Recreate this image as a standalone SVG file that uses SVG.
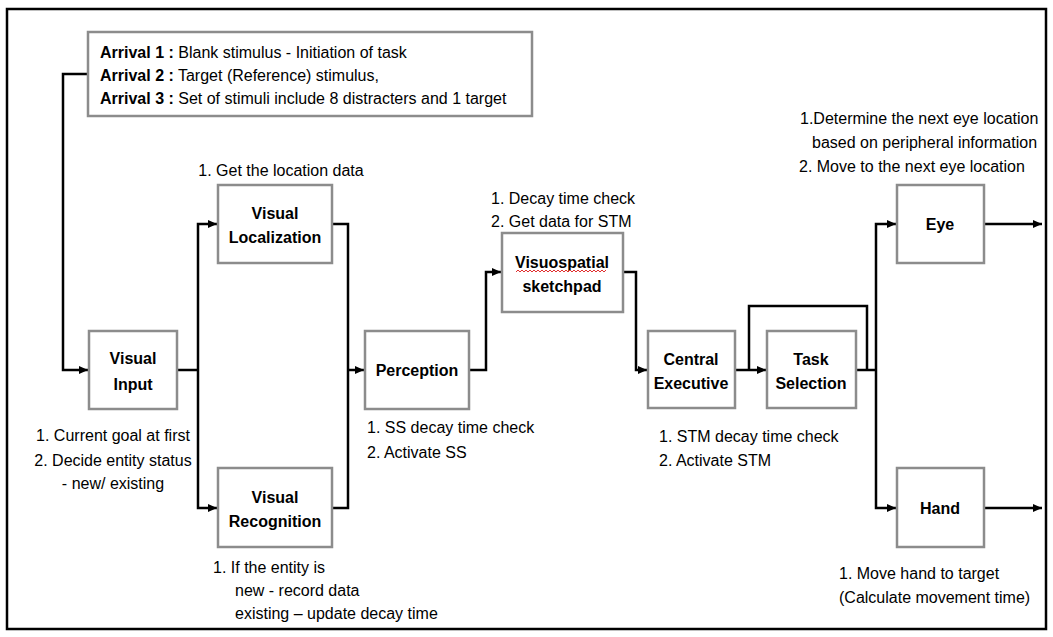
<svg xmlns="http://www.w3.org/2000/svg" width="1053" height="637" viewBox="0 0 1053 637">
<defs>
<style>
.box{fill:#fff;stroke:#8c8c8c;stroke-width:2.5}
.ln{fill:none;stroke:#000;stroke-width:2.5}
.arr{fill:none;stroke:#000;stroke-width:2.5;marker-end:url(#ah)}
text{font-family:"Liberation Sans",Arial,sans-serif;font-size:16px;fill:#000}
.t{font-weight:bold;text-anchor:middle}
.c{text-anchor:middle}
.b{font-weight:bold}
</style>
<marker id="ah" markerUnits="userSpaceOnUse" markerWidth="10" markerHeight="10" viewBox="0 0 10 10" refX="9" refY="5" orient="auto">
<path d="M0,1 L9,5 L0,9 Z" fill="#000"/>
</marker>
</defs>
<rect width="1053" height="637" fill="#fff"/>
<rect x="7" y="9" width="1039" height="620" fill="none" stroke="#000" stroke-width="2.5"/>

<g id="connectors">
<path class="arr" d="M88,74 H63 V370 H88"/>
<path class="ln" d="M177,370 H198"/>
<path class="arr" d="M198,370 V224 H217"/>
<path class="arr" d="M198,370 V508 H217"/>
<path class="ln" d="M332,224 H348 V508 H332"/>
<path class="arr" d="M348,370 H364"/>
<path class="arr" d="M469,370 H486 V272 H501"/>
<path class="arr" d="M623,272 H636 V370 H647"/>
<path class="arr" d="M735,370 H766"/>
<path class="ln" d="M749,370 V306 H867 V370"/>
<path class="ln" d="M856,370 H876"/>
<path class="arr" d="M876,370 V224 H896"/>
<path class="arr" d="M876,370 V508 H896"/>
<path class="arr" d="M984,224 H1042"/>
<path class="arr" d="M984,508 H1042"/>
</g>

<g id="arrivals">
<rect class="box" x="88" y="32" width="444" height="84"/>
<text x="100" y="58"><tspan class="b">Arrival 1 :</tspan> Blank stimulus - Initiation of task</text>
<text x="100" y="81"><tspan class="b">Arrival 2 :</tspan> Target (Reference) stimulus,</text>
<text x="100" y="104"><tspan class="b">Arrival 3 :</tspan> Set of stimuli include 8 distracters and 1 target</text>
</g>

<g id="visual-input">
<rect class="box" x="89" y="331" width="88" height="78"/>
<text class="t" x="133" y="364">Visual</text>
<text class="t" x="133" y="390">Input</text>
<text class="c" x="113" y="441">1. Current goal at first</text>
<text class="c" x="113" y="466">2. Decide entity status</text>
<text class="c" x="113" y="489">- new/ existing</text>
</g>

<g id="visual-localization">
<rect class="box" x="218" y="185" width="114" height="78"/>
<text class="t" x="275" y="219">Visual</text>
<text class="t" x="275" y="243">Localization</text>
<text class="c" x="281" y="176">1. Get the location data</text>
</g>

<g id="visual-recognition">
<rect class="box" x="218" y="468" width="114" height="79"/>
<text class="t" x="275" y="503">Visual</text>
<text class="t" x="275" y="527">Recognition</text>
<text x="213" y="573">1. If the entity is</text>
<text x="235" y="596">new - record data</text>
<text x="235" y="619">existing – update decay time</text>
</g>

<g id="perception">
<rect class="box" x="365" y="331" width="104" height="78"/>
<text class="t" x="417" y="376">Perception</text>
<text x="367" y="433">1. SS decay time check</text>
<text x="367" y="458">2. Activate SS</text>
</g>

<g id="visuospatial-sketchpad">
<rect class="box" x="502" y="233" width="121" height="79"/>
<text class="t" x="562" y="268">Visuospatial</text>
<path d="M516,272 l2,-2 l2,2 l2,-2 l2,2 l2,-2 l2,2 l2,-2 l2,2 l2,-2 l2,2 l2,-2 l2,2 l2,-2 l2,2 l2,-2 l2,2 l2,-2 l2,2 l2,-2 l2,2 l2,-2 l2,2 l2,-2 l2,2 l2,-2 l2,2 l2,-2 l2,2 l2,-2 l2,2 l2,-2 l2,2 l2,-2 l2,2 l2,-2 l2,2 l2,-2 l2,2 l2,-2 l2,2 l2,-2 l2,2 l2,-2 l2,2 l2,-2" fill="none" stroke="#e03030" stroke-width="1"/>
<text class="t" x="562" y="292">sketchpad</text>
<text x="491" y="204">1. Decay time check</text>
<text x="491" y="227">2. Get data for STM</text>
</g>

<g id="central-executive">
<rect class="box" x="648" y="331" width="87" height="77"/>
<text class="t" x="691" y="365">Central</text>
<text class="t" x="691" y="389">Executive</text>
<text x="659" y="442">1. STM decay time check</text>
<text x="659" y="466">2. Activate STM</text>
</g>

<g id="task-selection">
<rect class="box" x="767" y="331" width="89" height="77"/>
<text class="t" x="811" y="365">Task</text>
<text class="t" x="811" y="389">Selection</text>
</g>

<g id="eye">
<rect class="box" x="897" y="185" width="87" height="78"/>
<text class="t" x="940" y="230">Eye</text>
<text x="800" y="124">1.Determine the next eye location</text>
<text x="812" y="148">based on peripheral information</text>
<text x="799" y="172">2. Move to the next eye location</text>
</g>

<g id="hand">
<rect class="box" x="897" y="468" width="87" height="79"/>
<text class="t" x="940" y="514">Hand</text>
<text x="839" y="579">1. Move hand to target</text>
<text x="839" y="603">(Calculate movement time)</text>
</g>
</svg>
